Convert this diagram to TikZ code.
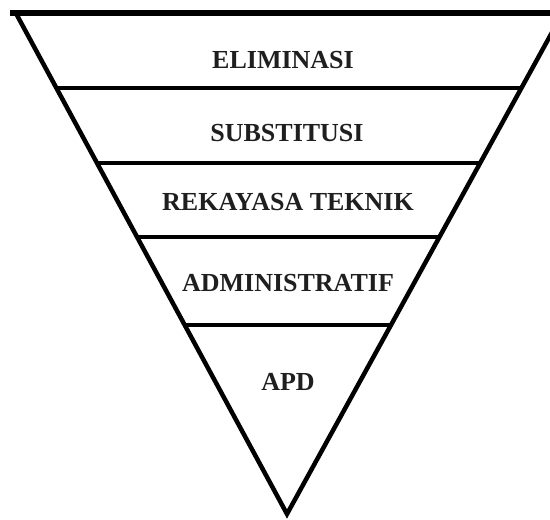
\documentclass[tikz,border=0pt]{standalone}
\usepackage{fontspec}
\setmainfont{Liberation Serif}
\begin{document}
\begin{tikzpicture}[x=1pt,y=-1pt,
  edge/.style={line width=4.5pt,line join=miter},
  band/.style={line width=4.5pt},
  lbl/.style={font=\fontsize{26}{30}\selectfont\bfseries,text=black!88,inner sep=0pt}]
\useasboundingbox (0,0) rectangle (550,520);
\clip (0,0) rectangle (550,520);
\coordinate (tl) at (15.8,13);
\coordinate (tr) at (562.7,13);
\coordinate (ap) at (287,514);
\draw[edge] (tl) -- (ap) -- (tr);
\coordinate (t0) at (10,13);
\coordinate (t9) at (552,13);
\draw[line width=6pt] (t0) -- (t9);
\coordinate (l1) at (56.1,88);  \coordinate (r1) at (521.8,88);
\coordinate (l2) at (96.4,163); \coordinate (r2) at (480.8,163);
\coordinate (l3) at (136.1,237);\coordinate (r3) at (440.4,237);
\coordinate (l4) at (183.4,325);\coordinate (r4) at (392.4,325);
\draw[band] (l1) -- (r1);
\draw[band] (l2) -- (r2);
\draw[band] (l3) -- (r3);
\draw[band] (l4) -- (r4);
\node[lbl] (t1) at (283,60) {ELIMINASI};
\node[lbl] (t2) at (287,133) {SUBSTITUSI};
\node[lbl] (t3) at (288,202) {REKAYASA TEKNIK};
\node[lbl] (t4) at (288,283) {ADMINISTRATIF};
\node[lbl] (t5) at (288,382) {APD};
\end{tikzpicture}
\end{document}
